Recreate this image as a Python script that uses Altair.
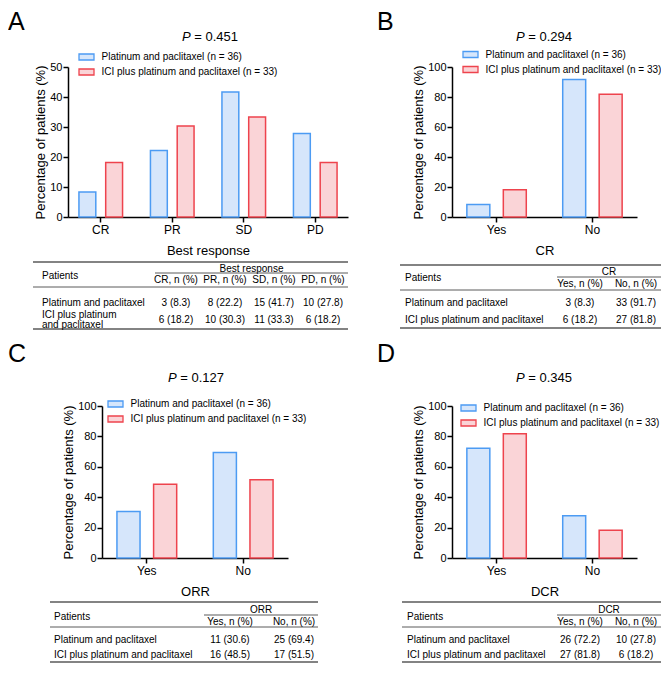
import altair as alt
import pandas as pd

FONT = "Liberation Sans"
W, H = 653, 656
TF = 10  # table font size

groups = ["Platinum and paclitaxel (n = 36)", "ICI plus platinum and paclitaxel (n = 33)"]
row_labels = ["Platinum and paclitaxel", "ICI plus platinum and paclitaxel"]
row_labels_a = ["Platinum and paclitaxel", "ICI plus platinum\nand paclitaxel"]
fill_colors = ["#d6e6fb", "#fad4d7"]
stroke_colors = ["#4c9bf3", "#ee434d"]

# Panel A: best response
a_cats = ["CR", "PR", "SD", "PD"]
a_pct_blue = [8.3, 22.2, 41.7, 27.8]
a_pct_red = [18.2, 30.3, 33.3, 18.2]
a_n_blue = [3, 8, 15, 10]
a_n_red = [6, 10, 11, 6]
a_heads = ["CR, n (%)", "PR, n (%)", "SD, n (%)", "PD, n (%)"]

# Panel B: CR
b_cats = ["Yes", "No"]
b_pct_blue = [8.3, 91.7]
b_pct_red = [18.2, 81.8]
b_n_blue = [3, 33]
b_n_red = [6, 27]

# Panel C: ORR
c_cats = ["Yes", "No"]
c_pct_blue = [30.6, 69.4]
c_pct_red = [48.5, 51.5]
c_n_blue = [11, 25]
c_n_red = [16, 17]

# Panel D: DCR
d_cats = ["Yes", "No"]
d_pct_blue = [72.2, 27.8]
d_pct_red = [81.8, 18.2]
d_n_blue = [26, 10]
d_n_red = [27, 6]

yn_heads = ["Yes, n (%)", "No, n (%)"]
p_values = ["0.451", "0.294", "0.127", "0.345"]

one = pd.DataFrame({"k": [0]})


def txt(s, x, y, size, align="left", baseline="alphabetic", style="normal"):
    return alt.Chart(one).mark_text(
        text=s, font=FONT, fontSize=size, align=align, baseline=baseline,
        fontStyle=style, color="black"
    ).encode(x=alt.value(x), y=alt.value(y))


def rule(x1, x2, y, width=1.1, color="#5a5a5a"):
    return alt.Chart(one).mark_rule(color=color, strokeWidth=width).encode(
        x=alt.value(x1), x2=alt.value(x2), y=alt.value(y))


def bars(cats, pb, pr, xr, yr, ymax, yvals, xtitle, lx, ly):
    n = len(cats)
    df = pd.DataFrame({
        "cat": cats + cats,
        "group": [groups[0]] * n + [groups[1]] * n,
        "pct": pb + pr,
    })
    pi, po = (0.39, 0.153) if n == 4 else (0.38, 0.155)
    leg = dict(orient="none", legendX=lx, legendY=ly, title=None,
               symbolType="M-1.5,-0.6H1.5V0.6H-1.5Z", symbolSize=100,
               symbolStrokeWidth=1.3, labelFont=FONT, labelFontSize=10,
               labelColor="black", labelOffset=9, labelLimit=400,
               rowPadding=3, padding=0, offset=0)
    return alt.Chart(df).mark_bar(strokeWidth=1.5).encode(
        x=alt.X("cat:N", sort=cats,
                scale=alt.Scale(domain=cats, range=list(xr), paddingInner=pi, paddingOuter=po),
                axis=alt.Axis(orient="bottom", offset=yr[0] - H, title=xtitle, labelAngle=0,
                              labelFontSize=12, titleFontSize=13, titlePadding=9,
                              labelPadding=2, tickSize=5)),
        xOffset=alt.XOffset("group:N", sort=groups,
                            scale=alt.Scale(domain=groups, paddingInner=0.37, paddingOuter=0)),
        y=alt.Y("pct:Q",
                scale=alt.Scale(domain=[0, ymax], range=[yr[0], yr[1]], nice=False),
                axis=alt.Axis(orient="left", offset=-xr[0], values=yvals,
                              title="Percentage of patients (%)", labelFontSize=11,
                              titleFontSize=13, titlePadding=2, labelPadding=1,
                              tickSize=5, grid=False)),
        fill=alt.Fill("group:N", sort=groups,
                      scale=alt.Scale(domain=groups, range=fill_colors), legend=alt.Legend(**leg)),
        stroke=alt.Stroke("group:N", sort=groups,
                          scale=alt.Scale(domain=groups, range=stroke_colors), legend=alt.Legend(**leg)),
    )


def table(labels, heads, gtitle, nb, pb, nr, pr, g):
    out = [
        rule(g["left"], g["right"], g["top"], 1.3),
        rule(g["ul_x1"], g["right"], g["ul"], 1.0),
        rule(g["left"], g["right"], g["sep"], 1.0),
        rule(g["left"], g["right"], g["bottom"], 1.3),
    ]
    vals = [f"{a} ({b})" for a, b in zip(nb, pb)] + [f"{a} ({b})" for a, b in zip(nr, pr)]
    k = len(heads)
    xs = alt.Scale(type="point", domain=heads, range=list(g["cols"]), padding=0)
    ys = alt.Scale(type="point", domain=["r1", "r2"], range=list(g["rows"]), padding=0)
    ls = alt.Scale(type="point", domain=["r1", "r2"], range=list(g.get("lrows", g["rows"])), padding=0)
    vdf = pd.DataFrame({"col": heads * 2, "row": ["r1"] * k + ["r2"] * k, "txt": vals})
    out.append(alt.Chart(vdf).mark_text(font=FONT, fontSize=TF, color="black").encode(
        x=alt.X("col:N", scale=xs, axis=None),
        y=alt.Y("row:N", scale=ys, axis=None),
        text="txt:N"))
    hdf = pd.DataFrame({"col": heads})
    out.append(alt.Chart(hdf).mark_text(font=FONT, fontSize=TF, color="black").encode(
        x=alt.X("col:N", scale=xs, axis=None),
        y=alt.value(g["sub"]),
        text="col:N"))
    ldf = pd.DataFrame({"row": ["r1", "r2"], "lab": labels})
    out.append(alt.Chart(ldf).mark_text(font=FONT, fontSize=TF, color="black", align="left",
                                        lineBreak="\n", lineHeight=10).encode(
        x=alt.value(g["lx"]),
        y=alt.Y("row:N", scale=ls, axis=None),
        text="lab:N"))
    out.append(txt("Patients", g["lx"], g["py"], TF, baseline="middle"))
    out.append(txt(gtitle, (g["ul_x1"] + g["right"]) / 2, g["group"], TF, align="center", baseline="middle"))
    return out


def ptitle(pv, cx, y):
    x0 = cx - 28
    return [txt("P", x0, y, 13, style="italic"), txt("= " + pv, x0 + 12.3, y, 13)]


panels = [
    dict(letter="A", cats=a_cats, pb=a_pct_blue, pr=a_pct_red, nb=a_n_blue, nr=a_n_red,
         xr=(60, 340), yr=(209, 59), ymax=50, yvals=[0, 10, 20, 30, 40, 50],
         xtitle="Best response", leg=(72.5, 43), tpos=(202, 33), lpos=(0, 22),
         labels=row_labels_a, heads=a_heads,
         tab=dict(top=254, left=25, right=340, group=261, ul=265, ul_x1=147, sub=272,
                  sep=279, rows=(295, 312), lrows=(295, 306.5), bottom=321, lx=34, py=268,
                  cols=(168, 315))),
    dict(letter="B", cats=b_cats, pb=b_pct_blue, pr=b_pct_red, nb=b_n_blue, nr=b_n_red,
         xr=(444, 629), yr=(209, 59), ymax=100, yvals=[0, 20, 40, 60, 80, 100],
         xtitle="CR", leg=(456.5, 40.5), tpos=(536, 33), lpos=(369, 22),
         labels=row_labels, heads=yn_heads,
         tab=dict(top=257, left=392, right=653, group=264, ul=269, ul_x1=549, sub=276,
                  sep=282, rows=(295, 312), bottom=320, lx=397, py=270, cols=(572, 628))),
    dict(letter="C", cats=c_cats, pb=c_pct_blue, pr=c_pct_red, nb=c_n_blue, nr=c_n_red,
         xr=(94, 280), yr=(550, 398), ymax=100, yvals=[0, 20, 40, 60, 80, 100],
         xtitle="ORR", leg=(101.5, 390), tpos=(188, 374), lpos=(0, 354),
         labels=row_labels, heads=yn_heads,
         tab=dict(top=594, left=42, right=310, group=602, ul=607, ul_x1=196, sub=614,
                  sep=619, rows=(632, 647), bottom=654, lx=46, py=609, cols=(222, 286))),
    dict(letter="D", cats=d_cats, pb=d_pct_blue, pr=d_pct_red, nb=d_n_blue, nr=d_n_red,
         xr=(444, 629), yr=(550, 398), ymax=100, yvals=[0, 20, 40, 60, 80, 100],
         xtitle="DCR", leg=(454.5, 394), tpos=(536, 374), lpos=(369, 354),
         labels=row_labels, heads=yn_heads,
         tab=dict(top=594, left=394, right=653, group=602, ul=607, ul_x1=549, sub=614,
                  sep=619, rows=(632, 647), bottom=654, lx=399, py=609, cols=(572, 628))),
]

layers = []
for p, pv in zip(panels, p_values):
    layers += table(p["labels"], p["heads"], p["xtitle"], p["nb"], p["pb"], p["nr"], p["pr"], p["tab"])
for p, pv in zip(panels, p_values):
    layers.append(bars(p["cats"], p["pb"], p["pr"], p["xr"], p["yr"], p["ymax"], p["yvals"],
                       p["xtitle"], p["leg"][0], p["leg"][1]))
    layers += ptitle(pv, p["tpos"][0], p["tpos"][1])
    layers.append(txt(p["letter"], p["lpos"][0], p["lpos"][1], 25))

chart = alt.layer(*layers).resolve_scale(
    x="independent", y="independent", xOffset="independent",
    fill="independent", stroke="independent"
).resolve_axis(x="independent", y="independent").resolve_legend(
    fill="independent", stroke="independent"
).properties(
    width=W, height=H, padding=0, background="white",
    autosize=alt.AutoSizeParams(type="none")
).configure_view(stroke=None).configure_axis(
    labelFont=FONT, titleFont=FONT, labelColor="black", titleColor="black",
    domainColor="black", tickColor="black", domainWidth=1.5, tickWidth=1.5,
    titleFontWeight="normal", grid=False
)

chart.save("out.html", embed_options={"renderer": "svg", "actions": False})
